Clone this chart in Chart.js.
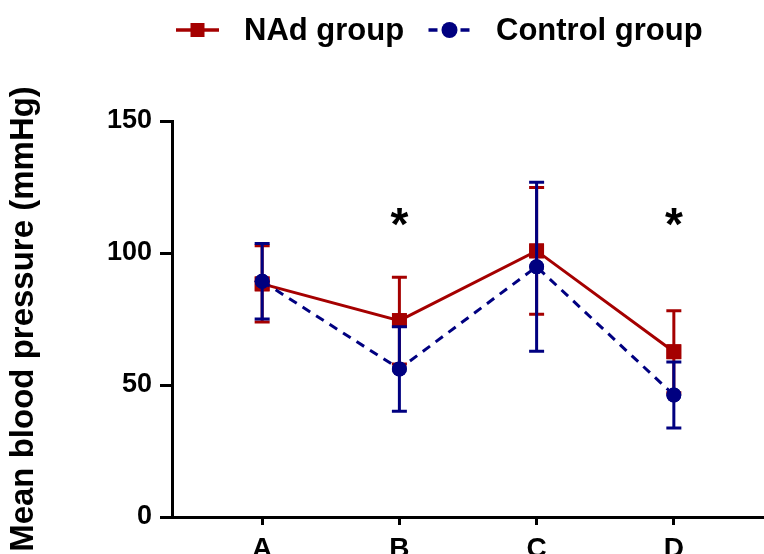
<!DOCTYPE html>
<html>
<head>
<meta charset="utf-8">
<script src="https://cdn.jsdelivr.net/npm/chart.js@4.4.1/dist/chart.umd.min.js"></script>
<style>
  html, body { margin: 0; padding: 0; background: #fff; overflow: hidden; }
  #wrap { width: 764px; height: 554px; overflow: hidden; }
</style>
</head>
<body>
<div id="wrap"><canvas id="bpChart" width="764" height="600"></canvas></div>
<script>
// values
var categories = ['A', 'B', 'C', 'D'];
var nadMean = [88.3, 74.4, 100.8, 62.6];
var nadSd = [14.4, 16.4, 24, 15.5];
var ctrlMean = [89.3, 56.1, 94.8, 46.2];
var ctrlSd = [14.3, 16, 32, 12.5];
var yTicks = [0, 50, 100, 150];
var signif = ['', '*', '', '*'];
var signifLevel = 113.7;

var FONT = '"Liberation Sans", Arial, Helvetica, sans-serif';
var RED = '#a50000';
var BLUE = '#000080';

function toPoints(arr) {
    return arr.map(function (v, i) { return { x: i, y: v }; });
}

// error bars, drawn right after each dataset so later datasets cover them
var errorBars = {
    id: 'errorBars',
    afterDatasetDraw: function (chart, args) {
        var ds = chart.data.datasets[args.index];
        if (!ds.sd) return;
        var ctx = chart.ctx;
        var y = chart.scales.y;
        ctx.save();
        ctx.strokeStyle = ds.borderColor;
        ctx.lineWidth = 3;
        ctx.setLineDash([]);
        args.meta.data.forEach(function (pt, i) {
            var m = ds.data[i].y;
            var top = y.getPixelForValue(m + ds.sd[i]);
            var bot = y.getPixelForValue(m - ds.sd[i]);
            ctx.beginPath();
            ctx.moveTo(pt.x, top);
            ctx.lineTo(pt.x, bot);
            ctx.moveTo(pt.x - 7.5, top);
            ctx.lineTo(pt.x + 7.5, top);
            ctx.moveTo(pt.x - 7.5, bot);
            ctx.lineTo(pt.x + 7.5, bot);
            ctx.stroke();
        });
        // redraw the markers over the bars
        args.meta.data.forEach(function (pt) { pt.draw(ctx, chart.chartArea); });
        ctx.restore();
    }
};

// asterisks and the legend across the top
var extras = {
    id: 'extras',
    afterDraw: function (chart) {
        var ctx = chart.ctx;
        var xs = chart.scales.x, ys = chart.scales.y;
        ctx.save();
        ctx.fillStyle = '#000';
        ctx.font = 'bold 46px ' + FONT;
        ctx.textAlign = 'center';
        ctx.textBaseline = 'alphabetic';
        signif.forEach(function (s, i) {
            if (!s) return;
            var m = ctx.measureText(s);
            var yc = ys.getPixelForValue(signifLevel);
            var base = yc + (m.actualBoundingBoxAscent - m.actualBoundingBoxDescent) / 2;
            ctx.fillText(s, xs.getPixelForValue(i), base);
        });

        var items = [
            { ds: chart.data.datasets[1], x0: 176, x1: 219, tx: 244 },
            { ds: chart.data.datasets[0], x0: 428, x1: 471, tx: 496 }
        ];
        var ly = 30;
        items.forEach(function (it) {
            var ds = it.ds;
            ctx.strokeStyle = ds.borderColor;
            ctx.lineWidth = 3.5;
            ctx.setLineDash(ds.borderDash || []);
            ctx.lineDashOffset = ds.borderDash ? -0.5 : 0;
            ctx.beginPath();
            ctx.moveTo(it.x0, ly);
            ctx.lineTo(it.x1, ly);
            ctx.stroke();
            ctx.setLineDash([]);
            ctx.fillStyle = ds.backgroundColor;
            var cx = (it.x0 + it.x1) / 2;
            if (ds.pointStyle === 'rect') {
                ctx.fillRect(cx - 7, ly - 7, 14, 14);
            } else {
                ctx.beginPath();
                ctx.arc(cx, ly, 8, 0, Math.PI * 2);
                ctx.fill();
            }
            ctx.fillStyle = '#000';
            ctx.font = 'bold 31px ' + FONT;
            ctx.textAlign = 'left';
            ctx.textBaseline = 'middle';
            ctx.fillText(ds.label, it.tx, ly + 1);
        });
        ctx.restore();
    }
};

document.addEventListener('DOMContentLoaded', function () {
    var ctx = document.getElementById('bpChart').getContext('2d');
    var bpChart = new Chart(ctx, {
        type: 'line',
        data: {
            datasets: [{
                label: 'Control group',
                data: toPoints(ctrlMean),
                sd: ctrlSd,
                borderColor: BLUE,
                backgroundColor: BLUE,
                borderWidth: 3,
                borderDash: [9, 7],
                pointStyle: 'circle',
                pointRadius: 7.5,
                pointBorderWidth: 0,
                order: 1
            }, {
                label: 'NAd group',
                data: toPoints(nadMean),
                sd: nadSd,
                borderColor: RED,
                backgroundColor: RED,
                borderWidth: 3,
                pointStyle: 'rect',
                pointRadius: 10.5,
                pointBorderWidth: 0,
                order: 2
            }]
        },
        options: {
            responsive: false,
            animation: false,
            devicePixelRatio: 1,
            layout: { autoPadding: false, padding: { top: 121, left: 0, right: 0, bottom: 0 } },
            plugins: {
                legend: { display: false },
                tooltip: { enabled: false }
            },
            scales: {
                x: {
                    type: 'linear',
                    min: -0.657,
                    max: 3.657,
                    afterBuildTicks: function (scale) {
                        scale.ticks = categories.map(function (c, i) { return { value: i }; });
                    },
                    afterFit: function (scale) {
                        scale.height = 600 - 517;
                        scale.paddingLeft = 0;
                        scale.paddingRight = 0;
                    },
                    grid: {
                        drawOnChartArea: false,
                        drawTicks: true,
                        tickLength: 8,
                        tickWidth: 3,
                        tickColor: '#000'
                    },
                    border: { display: true, color: '#000', width: 3 },
                    ticks: {
                        color: '#000',
                        padding: 7,
                        maxRotation: 0,
                        font: { family: FONT, size: 28, weight: 'bold' },
                        callback: function (v) { return categories[v]; }
                    }
                },
                y: {
                    min: 0,
                    max: 150,
                    afterBuildTicks: function (scale) {
                        scale.ticks = yTicks.map(function (v) { return { value: v }; });
                    },
                    afterFit: function (scale) { scale.width = 172; },
                    grid: {
                        drawOnChartArea: false,
                        drawTicks: true,
                        tickLength: 12,
                        tickWidth: 3,
                        tickColor: '#000'
                    },
                    border: { display: true, color: '#000', width: 3 },
                    ticks: {
                        color: '#000',
                        padding: 8,
                        font: { family: FONT, size: 27, weight: 'bold' }
                    },
                    title: {
                        display: true,
                        text: 'Mean blood pressure (mmHg)',
                        color: '#000',
                        padding: { top: 4, bottom: 0 },
                        font: { family: FONT, size: 33, weight: 'bold' }
                    }
                }
            }
        },
        plugins: [errorBars, extras]
    });
});
</script>
</body>
</html>
